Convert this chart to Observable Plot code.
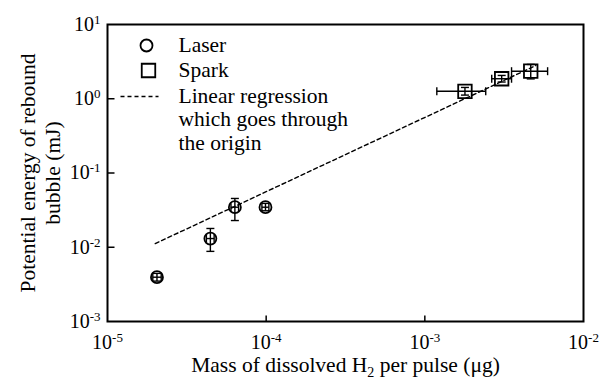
<!DOCTYPE html>
<html><head><meta charset="utf-8">
<script src="https://cdn.jsdelivr.net/npm/d3@7"></script>
<script src="https://cdn.jsdelivr.net/npm/@observablehq/plot@0.6"></script>
<style>
body{margin:0;background:#fff}
svg, svg text { font-family: "Liberation Serif", "Times New Roman", Times, "DejaVu Serif", serif !important; }
</style>
</head><body><div id="chart"></div>
<script>
// Laser data (µg, mJ)
const laserX   = [2.05e-5, 4.45e-5, 6.35e-5, 9.9e-5];
const laserY   = [3.95e-3, 0.0131, 0.0346, 0.0346];
const laserYLo = [3.5e-3, 0.0088, 0.0229, 0.031];
const laserYHi = [4.45e-3, 0.0179, 0.0454, 0.039];
const laserXLo = [1.93e-5, 4.2e-5, 6.0e-5, 9.4e-5];
const laserXHi = [2.18e-5, 4.7e-5, 6.7e-5, 1.04e-4];
// Spark data
const sparkX   = [1.79e-3, 3.05e-3, 4.65e-3];
const sparkY   = [1.26, 1.86, 2.35];
const sparkXLo = [1.19e-3, 2.64e-3, 3.52e-3];
const sparkXHi = [2.42e-3, 3.52e-3, 5.94e-3];
const sparkYLo = [1.12, 1.68, 1.85];
const sparkYHi = [1.42, 2.06, 2.9];
// Regression line through origin
const regX = [2e-5, 5e-3];
const regY = [0.0112, 2.8];
// Ticks and labels
const xTicks = [1e-5, 1e-4, 1e-3, 1e-2];
const yTicks = [1e-3, 1e-2, 1e-1, 1, 10];
const xInnerTicks = [1e-4, 1e-3];
const yInnerTicks = [1e-2, 1e-1, 1];
const legendLabels = ["Laser", "Spark", "Linear regression", "which goes through", "the origin"];
const xTitleParts = ["Mass of dissolved H", "2", " per pulse (\u03bcg)"];
const yTitleLines = ["Potential energy of rebound", "bubble (mJ)"];

const laser = laserX.map((x, i) => ({x, y: laserY[i], xlo: laserXLo[i], xhi: laserXHi[i], ylo: laserYLo[i], yhi: laserYHi[i]}));
const spark = sparkX.map((x, i) => ({x, y: sparkY[i], xlo: sparkXLo[i], xhi: sparkXHi[i], ylo: sparkYLo[i], yhi: sparkYHi[i]}));
const reg = regX.map((x, i) => ({x, y: regY[i]}));
const pts = laser.concat(spark);

const hCap = {draw(ctx) { ctx.moveTo(-4, 0); ctx.lineTo(4, 0); }};
const vCap = {draw(ctx) { ctx.moveTo(0, -4); ctx.lineTo(0, 4); }};
const yTickSym = {draw(ctx) { ctx.moveTo(0, 0); ctx.lineTo(7, 0); }};
const xTickSym = {draw(ctx) { ctx.moveTo(0, 0); ctx.lineTo(0, -6); }};
const legDash = {draw(ctx) { ctx.moveTo(-19, 0); ctx.lineTo(19, 0); }};
const sq = {draw(ctx) { ctx.rect(-6.75, -6.75, 13.5, 13.5); }};

const legendDy = [21, 46, 72, 95, 119];
const F = "Liberation Serif";
const FS = 21.5;

const chart = Plot.plot({
  width: 605, height: 379,
  marginLeft: 107, marginRight: 22, marginTop: 24, marginBottom: 58,
  style: {fontFamily: F, fontSize: "20px", color: "#000", background: "#fff", overflow: "visible"},
  x: {type: "log", domain: [1e-5, 1e-2]},
  y: {type: "log", domain: [1e-3, 10]},
  marks: [
    Plot.axisX({ticks: xTicks, tickSize: 0, tickPadding: 13, label: null, tickFormat: d => String(Math.round(Math.log10(d))), fontSize: 20, fontFamily: F}),
    Plot.axisY({ticks: yTicks, tickSize: 0, tickPadding: 7, label: null, tickFormat: d => String(Math.round(Math.log10(d))), fontSize: 20, fontFamily: F}),
    Plot.dot(yInnerTicks, {y: d => d, frameAnchor: "left", symbol: yTickSym, fill: "none", stroke: "#000", strokeWidth: 1.5}),
    Plot.dot(xInnerTicks, {x: d => d, frameAnchor: "bottom", symbol: xTickSym, fill: "none", stroke: "#000", strokeWidth: 1.5}),
    Plot.line(reg, {x: "x", y: "y", stroke: "#000", strokeWidth: 1.4, strokeDasharray: "4,3"}),
    // error bars
    Plot.link(pts, {x1: "xlo", x2: "xhi", y1: "y", y2: "y", stroke: "#000", strokeWidth: 1.4}),
    Plot.link(pts, {x1: "x", x2: "x", y1: "ylo", y2: "yhi", stroke: "#000", strokeWidth: 1.4}),
    Plot.dot(pts, {x: "xlo", y: "y", symbol: vCap, fill: "none", stroke: "#000", strokeWidth: 1.4}),
    Plot.dot(pts, {x: "xhi", y: "y", symbol: vCap, fill: "none", stroke: "#000", strokeWidth: 1.4}),
    Plot.dot(pts, {x: "x", y: "ylo", symbol: hCap, fill: "none", stroke: "#000", strokeWidth: 1.4}),
    Plot.dot(pts, {x: "x", y: "yhi", symbol: hCap, fill: "none", stroke: "#000", strokeWidth: 1.4}),
    Plot.dot(laser, {x: "x", y: "y", r: 6, fill: "none", stroke: "#000", strokeWidth: 1.8}),
    Plot.dot(spark, {x: "x", y: "y", symbol: sq, fill: "none", stroke: "#000", strokeWidth: 1.8}),
    // legend
    Plot.dot([0], {frameAnchor: "top-left", dx: 39, dy: 21, r: 6, fill: "none", stroke: "#000", strokeWidth: 1.8}),
    Plot.dot([0], {frameAnchor: "top-left", dx: 41, dy: 46, symbol: sq, fill: "none", stroke: "#000", strokeWidth: 1.8}),
    Plot.dot([0], {frameAnchor: "top-left", dx: 32, dy: 72, symbol: legDash, fill: "none", stroke: "#000", strokeWidth: 1.4, strokeDasharray: "4,3"}),
    ...legendLabels.map((t, i) => Plot.text([t], {text: d => d, frameAnchor: "top-left", dx: 71, dy: legendDy[i], textAnchor: "start", lineAnchor: "middle", fontSize: FS, fontFamily: F, fill: "#000"})),
    // axis titles
    Plot.text([xTitleParts.join("")], {text: d => d, frameAnchor: "bottom", dy: 44, textAnchor: "middle", lineAnchor: "middle", fontSize: FS, fontFamily: F, fill: "#000"}),
    Plot.text([yTitleLines.join("\n")], {text: d => d, frameAnchor: "left", dx: -68, rotate: -90, textAnchor: "middle", lineAnchor: "middle", lineHeight: 1.17, fontSize: FS, fontFamily: F, fill: "#000"}),
    Plot.frame({stroke: "#000", strokeWidth: 2})
  ]
});

const svg = d3.select(chart);
svg.selectAll('g[aria-label="x-axis tick label"] text, g[aria-label="y-axis tick label"] text').each(function() {
  const e = this.textContent;
  const t = d3.select(this);
  t.text("10");
  t.append("tspan").attr("dy", "-0.55em").attr("font-size", 13).text(e);
});
const fullTitle = xTitleParts.join("");
svg.selectAll("text").filter(function() { return this.textContent === fullTitle; }).each(function() {
  const t = d3.select(this);
  t.text(xTitleParts[0]);
  t.append("tspan").attr("dy", 5).attr("font-size", 14).text(xTitleParts[1]);
  t.append("tspan").attr("dy", -5).text(xTitleParts[2]);
});
document.getElementById("chart").append(chart);
</script>
</body></html>
